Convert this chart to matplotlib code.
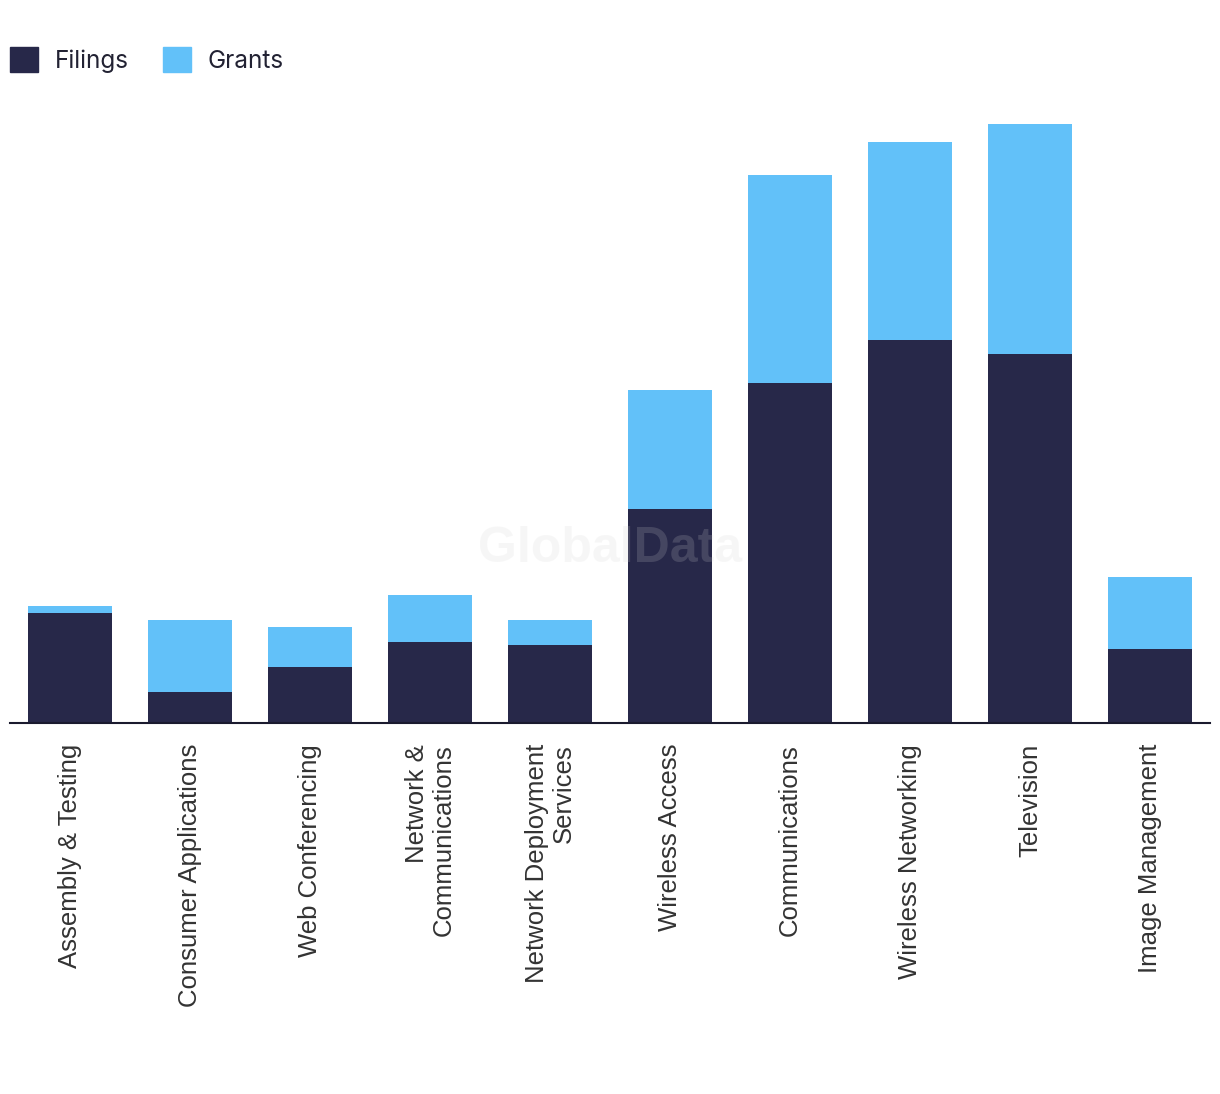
import matplotlib
matplotlib.use("Agg")
import matplotlib.pyplot as plt
from matplotlib.patches import Patch

categories = ["Assembly & Testing", "Consumer Applications", "Web Conferencing",
              "Network &\nCommunications", "Network Deployment\nServices", "Wireless Access",
              "Communications", "Wireless Networking", "Television", "Image Management"]
filings = [110, 31, 56, 81, 78, 214, 340, 383, 369, 74]
grants = [7, 72, 40, 47, 25, 119, 208, 198, 230, 72]

c_fil = "#272849"
c_gra = "#62C1F9"

fig = plt.figure(figsize=(12.2, 10.94), dpi=100)
ax = fig.add_axes([10/1220, 1 - 723/1094, 1200/1220, 623/1094])
x = list(range(len(categories)))
ax.bar(x, filings, width=0.7, color=c_fil, zorder=2)
ax.bar(x, grants, width=0.7, bottom=filings, color=c_gra, zorder=2)
ax.set_xlim(-0.5, len(categories) - 0.5)
ax.set_ylim(0, 623)
for s in ["top", "right", "left"]:
    ax.spines[s].set_visible(False)
ax.spines["bottom"].set_color("#1a1a2e")
ax.spines["bottom"].set_linewidth(1.5)
ax.set_yticks([])
ax.set_xticks(x)
ax.set_xticklabels(categories, rotation=90, ha="center", va="top", multialignment="right",
                   fontsize=18.5, color="#333333", family=["Liberation Sans", "DejaVu Sans"],
                   linespacing=1.15)
ax.tick_params(axis="x", length=0, pad=15)

ax.text(0.5, 0.28, "GlobalData", transform=ax.transAxes, ha="center", va="center",
        fontsize=36, fontweight="bold", color="#d2d2d2", alpha=0.18, zorder=5,
        family=["Liberation Sans", "DejaVu Sans"])

handles = [Patch(color=c_fil, label="Filings"), Patch(color=c_gra, label="Grants")]
fig.legend(handles=handles, loc="upper left", bbox_to_anchor=(-0.004, 0.97), ncol=2,
           frameon=False, handlelength=1.15, handleheight=1.15,
           handletextpad=0.7, columnspacing=1.4, borderaxespad=0.2,
           prop={"family": ["Inter", "DejaVu Sans"], "size": 17.5})
for t in fig.legends[0].get_texts():
    t.set_color("#222233")

fig.savefig("out.png", dpi=100, facecolor="white")
